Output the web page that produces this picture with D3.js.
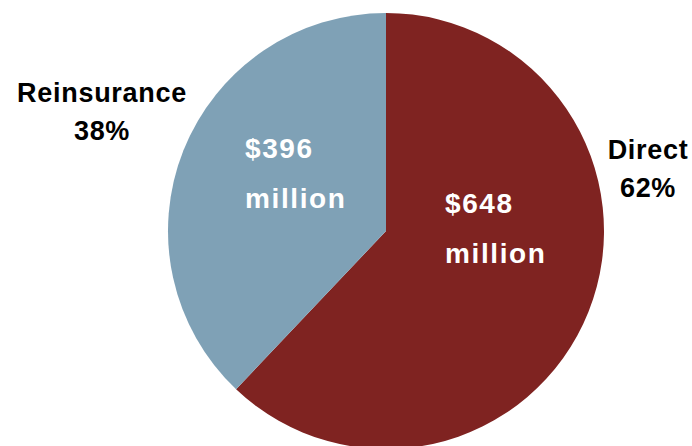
<!DOCTYPE html>
<html>
<head>
<meta charset="utf-8">
<script src="https://cdn.jsdelivr.net/npm/d3@7/dist/d3.min.js"></script>
<style>
  body { margin: 0; background: #fff; }
  text { font-family: "Liberation Sans", Arial, sans-serif; font-weight: bold; }
</style>
</head>
<body>
<svg id="chart" width="692" height="446"></svg>
<script>
// data
const categories = ["Direct", "Reinsurance"];
const values = [648, 396];            // $ million
const amountLabels = ["$648", "$396"];
const colors = ["#7f2321", "#7fa1b6"];

const width = 692, height = 446;
const cx = 386, cy = 231, radius = 218;

// where each slice's text goes, offsets from the pie centre
const outerPos = [{x: 262, y: -72}, {x: -284, y: -129}];
const innerPos = [{x: 59, y: -18}, {x: -141, y: -73}];

const svg = d3.select("#chart");
const g = svg.append("g")
    .attr("transform", "translate(" + cx + "," + cy + ")");

const total = d3.sum(values);
const pie = d3.pie().sort(null).value(d => d)(values);
const arc = d3.arc().innerRadius(0).outerRadius(radius);

g.selectAll("path.slice")
    .data(pie)
    .enter()
    .append("path")
    .attr("class", "slice")
    .attr("d", arc)
    .attr("fill", (d, i) => colors[i]);

// category name + percent, outside the pie
const outer = g.selectAll("text.outer")
    .data(pie)
    .enter()
    .append("text")
    .attr("class", "outer")
    .attr("text-anchor", "middle")
    .style("font-size", "27px")
    .style("letter-spacing", "0.7px")
    .attr("fill", "#000");
outer.append("tspan")
    .attr("x", (d, i) => outerPos[i].x)
    .attr("y", (d, i) => outerPos[i].y)
    .text((d, i) => categories[i]);
outer.append("tspan")
    .attr("x", (d, i) => outerPos[i].x)
    .attr("y", (d, i) => outerPos[i].y + 38)
    .text(d => Math.round(d.value / total * 100) + "%");

// dollar amount inside the slice
const inner = g.selectAll("text.inner")
    .data(pie)
    .enter()
    .append("text")
    .attr("class", "inner")
    .attr("text-anchor", "start")
    .style("font-size", "28px")
    .style("letter-spacing", "1.6px")
    .attr("fill", "#fff");
inner.append("tspan")
    .attr("x", (d, i) => innerPos[i].x)
    .attr("y", (d, i) => innerPos[i].y)
    .text((d, i) => amountLabels[i]);
inner.append("tspan")
    .attr("x", (d, i) => innerPos[i].x)
    .attr("y", (d, i) => innerPos[i].y + 50)
    .text("million");
</script>
</body>
</html>
